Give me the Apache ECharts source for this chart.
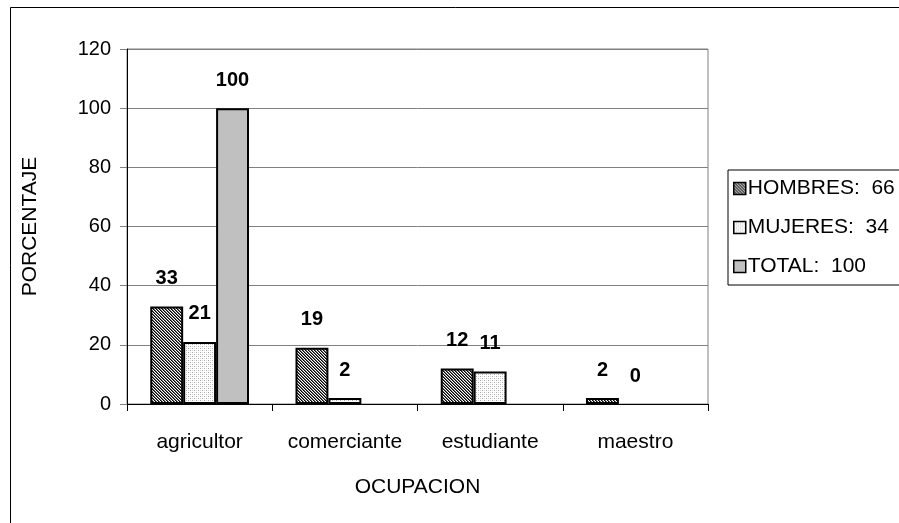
<!DOCTYPE html>
<html>
<head>
<meta charset="utf-8">
<script src="https://cdn.jsdelivr.net/npm/echarts@6/dist/echarts.min.js"></script>
<style>
  html, body { margin: 0; padding: 0; background: #fff; }
  #chart { width: 899px; height: 523px; }
</style>
</head>
<body>
<div id="chart"></div>
<script>
// Occupation by sex (percent)
const categories = ['agricultor', 'comerciante', 'estudiante', 'maestro'];
const hombres = [33, 19, 12, 2];
const mujeres = [21, 2, 11, 0];
const total = [100, null, null, null];
const seriesNames = ['HOMBRES', 'MUJERES', 'TOTAL'];
const seriesTotals = [66, 34, 100];
const yMin = 0, yMax = 120, yStep = 20;

const FONT = "'Liberation Sans', Arial, sans-serif";

// Small repeating tiles used as bar fills
function makeTile(size, draw) {
  const c = document.createElement('canvas');
  c.width = size; c.height = size;
  const g = c.getContext('2d');
  g.fillStyle = '#fff';
  g.fillRect(0, 0, size, size);
  draw(g);
  return c;
}
// dense "\" hatching
const hatchTile = makeTile(3, g => {
  for (let i = 0; i < 3; i++) {
    g.fillStyle = '#000';
    g.fillRect(i, i, 1, 1);
    g.fillStyle = '#6a6a6a';
    g.fillRect((i + 1) % 3, i, 1, 1);
  }
});
// light stipple
const dotTile = makeTile(4, g => {
  g.fillStyle = '#a8a8a8';
  g.fillRect(0, 0, 1, 1);
  g.fillRect(2, 2, 1, 1);
  g.fillStyle = '#dcdcdc';
  g.fillRect(2, 0, 1, 1);
  g.fillRect(0, 2, 1, 1);
});

const fills = [
  { image: hatchTile, repeat: 'repeat' },
  { image: dotTile, repeat: 'repeat' },
  '#c0c0c0'
];
const seriesData = [hombres, mujeres, total];

const chart = echarts.init(document.getElementById('chart'), null, { renderer: 'canvas' });

const labelStyle = {
  show: true,
  position: 'top',
  distance: 18,
  fontFamily: FONT,
  fontSize: 20,
  fontWeight: 'bold',
  color: '#000'
};

// zero-height bars get no outline
const toItems = arr => arr.map(v => (v === 0 ? { value: 0, itemStyle: { borderWidth: 0 } } : v));

chart.setOption({
  animation: false,
  backgroundColor: '#fff',
  textStyle: { fontFamily: FONT, color: '#000' },
  grid: { left: 127, right: 191, top: 49, bottom: 119, show: true, borderColor: '#808080', borderWidth: 1 },
  graphic: [{
    type: 'rect',
    shape: { x: 10.5, y: 7.5, width: 1000, height: 1000 },
    style: { fill: 'none', stroke: '#000', lineWidth: 1 },
    silent: true
  }],
  legend: {
    orient: 'vertical',
    left: 728,
    top: 170,
    padding: [8, 12, 8, 5],
    itemGap: 18,
    itemWidth: 12,
    itemHeight: 12,
    icon: 'rect',
    borderColor: '#000',
    borderWidth: 1,
    itemStyle: { borderColor: '#000', borderWidth: 1.5 },
    textStyle: { fontFamily: FONT, fontSize: 21, color: '#000', padding: [0, 0, 0, -3] },
    formatter: name => name + ':  ' + seriesTotals[seriesNames.indexOf(name)],
    data: seriesNames
  },
  xAxis: {
    type: 'category',
    data: categories,
    name: 'OCUPACION',
    nameLocation: 'middle',
    nameGap: 73,
    nameTextStyle: { fontFamily: FONT, fontSize: 21, color: '#000' },
    axisLine: { lineStyle: { color: '#000', width: 1 } },
    axisTick: { show: true, length: 7, interval: 0, lineStyle: { color: '#000' } },
    axisLabel: { margin: 28, interval: 0, hideOverlap: false, fontFamily: FONT, fontSize: 21, color: '#000' },
    splitLine: { show: false }
  },
  yAxis: {
    type: 'value',
    min: yMin,
    max: yMax,
    interval: yStep,
    name: 'PORCENTAJE',
    nameLocation: 'middle',
    nameGap: 86,
    nameRotate: 90,
    nameTextStyle: { fontFamily: FONT, fontSize: 21, color: '#000' },
    axisLine: { show: true, lineStyle: { color: '#000', width: 1 } },
    axisTick: { show: true, length: 7, lineStyle: { color: '#808080' } },
    axisLabel: { margin: 16, fontFamily: FONT, fontSize: 20, color: '#000' },
    splitLine: { show: true, lineStyle: { color: '#808080', width: 1 } }
  },
  series: seriesNames.map((name, i) => ({
    name: name,
    type: 'bar',
    data: toItems(seriesData[i]),
    barGap: '0%',
    barCategoryGap: '32%',
    itemStyle: { color: fills[i], borderColor: '#000', borderWidth: 2 },
    label: labelStyle
  }))
});
</script>
</body>
</html>
